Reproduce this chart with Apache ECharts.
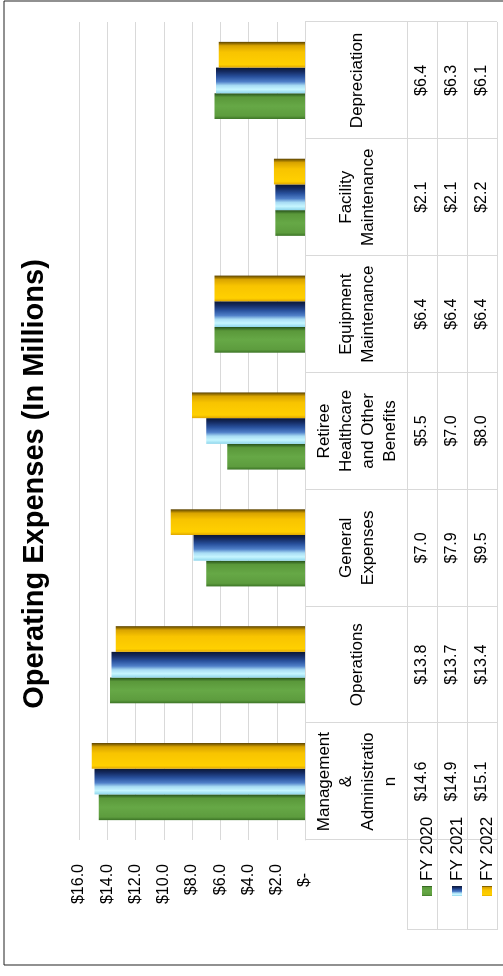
<!DOCTYPE html>
<html>
<head>
<meta charset="utf-8">
<script src="https://cdn.jsdelivr.net/npm/echarts@6/dist/echarts.min.js"></script>
<style>
  html, body { margin: 0; padding: 0; width: 503px; height: 976px; overflow: hidden; background: #fff; }
  #rot { position: absolute; left: 0; top: 0; width: 976px; height: 503px;
         transform-origin: 0 0; transform: translate(0px, 976px) rotate(-90deg); }
  #chart { width: 976px; height: 503px; }
</style>
</head>
<body>
<div id="rot"><div id="chart"></div></div>
<script>
// ---- data ----
const categories = [
  'Management\n&\nAdministratio\nn',
  'Operations',
  'General\nExpenses',
  'Retiree\nHealthcare\nand Other\nBenefits',
  'Equipment\nMaintenance',
  'Facility\nMaintenance',
  'Depreciation'
];
const seriesNames = ['FY 2020', 'FY 2021', 'FY 2022'];
const fy2020 = [14.6, 13.8, 7.0, 5.5, 6.4, 2.1, 6.4];
const fy2021 = [14.9, 13.7, 7.9, 7.0, 6.4, 2.1, 6.3];
const fy2022 = [15.1, 13.4, 9.5, 8.0, 6.4, 2.2, 6.1];
const valueMin = 0, valueMax = 16, valueStep = 2;
const titleText = 'Operating Expenses (In Millions)';

// ---- layout (landscape, before rotation) ----
const W = 976, H = 503;
const GL = 136, GR = 954, GT = 79, GB = 305;
const HEADER_BOTTOM = 407, ROW_H = 30;
const LEGEND_LEFT = 46;
const FONT = "'Liberation Sans', Arial, sans-serif";
const GRID_COLOR = '#d9d9d9';

function grad(stops) {
  return new echarts.graphic.LinearGradient(0, 0, 1, 0,
    stops.map(s => ({ offset: s[0], color: s[1] })));
}
const colors = [
  grad([[0, '#3c7426'], [0.12, '#5d9c3e'], [0.5, '#66a846'], [0.85, '#5a983a'], [1, '#25501a']]),
  grad([[0, '#8fd6ec'], [0.15, '#c6f6ff'], [0.3, '#a8dcf4'], [0.45, '#4f7fc8'], [0.65, '#28509c'], [0.85, '#142a60'], [1, '#0b1834']]),
  grad([[0, '#e0a800'], [0.12, '#ffd000'], [0.6, '#f8c400'], [0.85, '#d9a400'], [1, '#5a4200']])
];
const rows = [fy2020, fy2021, fy2022];

const fmtMoney = v => '$' + v.toFixed(1);

const xAxes = [{
  type: 'category',
  data: categories,
  position: 'bottom',
  boundaryGap: true,
  axisLine: { show: true, lineStyle: { color: GRID_COLOR, width: 1 } },
  axisTick: { show: true, length: HEADER_BOTTOM - GB + ROW_H * 3, lineStyle: { color: GRID_COLOR, width: 1 } },
  axisLabel: {
    interval: 0, margin: (HEADER_BOTTOM - GB) / 2 + 1, verticalAlign: 'middle',
    color: '#000', fontSize: 17, lineHeight: 22, fontFamily: FONT, align: 'center'
  }
}];
rows.forEach((vals, r) => {
  xAxes.push({
    type: 'category',
    data: categories,
    position: 'bottom',
    offset: HEADER_BOTTOM - GB + ROW_H * r + ROW_H / 2,
    axisLine: { show: false },
    axisTick: { show: false },
    axisLabel: {
      interval: 0, margin: 0, verticalAlign: 'middle',
      color: '#000', fontSize: 16, fontFamily: FONT,
      formatter: (v, i) => fmtMoney(vals[i])
    }
  });
});

const graphics = [
  // outer frame
  { type: 'rect', silent: true, shape: { x: 11, y: 4, width: 964, height: 560 },
    style: { fill: null, stroke: '#222', lineWidth: 1 } },
  // legend column left edge
  { type: 'line', silent: true, shape: { x1: LEGEND_LEFT + 0.5, y1: HEADER_BOTTOM, x2: LEGEND_LEFT + 0.5, y2: HEADER_BOTTOM + ROW_H * 3 },
    style: { stroke: GRID_COLOR, lineWidth: 1 } }
];
for (let r = 0; r <= 3; r++) {
  const y = HEADER_BOTTOM + ROW_H * r + 0.5;
  graphics.push({ type: 'line', silent: true, shape: { x1: LEGEND_LEFT, y1: y, x2: GR, y2: y },
    style: { stroke: GRID_COLOR, lineWidth: 1 } });
}

const option = {
  animation: false,
  backgroundColor: '#fff',
  textStyle: { fontFamily: FONT },
  title: {
    text: titleText,
    left: 487, top: 15, textAlign: 'center',
    textStyle: { fontSize: 29, fontWeight: 'bold', color: '#000', fontFamily: FONT }
  },
  legend: {
    data: seriesNames,
    orient: 'vertical',
    left: 75, top: HEADER_BOTTOM + 6,
    itemWidth: 10, itemHeight: 10, itemGap: 12,
    icon: 'rect',
    textStyle: { fontSize: 17, lineHeight: 18, color: '#000', fontFamily: FONT }
  },
  grid: { left: GL, right: W - GR, top: GT, bottom: H - GB, containLabel: false },
  xAxis: xAxes,
  yAxis: {
    type: 'value', min: valueMin, max: valueMax, interval: valueStep,
    axisLine: { show: false }, axisTick: { show: false },
    splitLine: { show: true, lineStyle: { color: GRID_COLOR, width: 1 } },
    axisLabel: {
      margin: 24, color: '#000', fontSize: 16, fontFamily: FONT,
      formatter: v => v === 0 ? '$-  ' : fmtMoney(v)
    }
  },
  graphic: graphics,
  series: rows.map((vals, r) => ({
    name: seriesNames[r],
    type: 'bar',
    xAxisIndex: 0,
    data: vals,
    barGap: '0%',
    barCategoryGap: '34%',
    itemStyle: { color: colors[r] }
  }))
};

const chart = echarts.init(document.getElementById('chart'), null, { renderer: 'canvas', width: W, height: H });
chart.setOption(option);
</script>
</body>
</html>
